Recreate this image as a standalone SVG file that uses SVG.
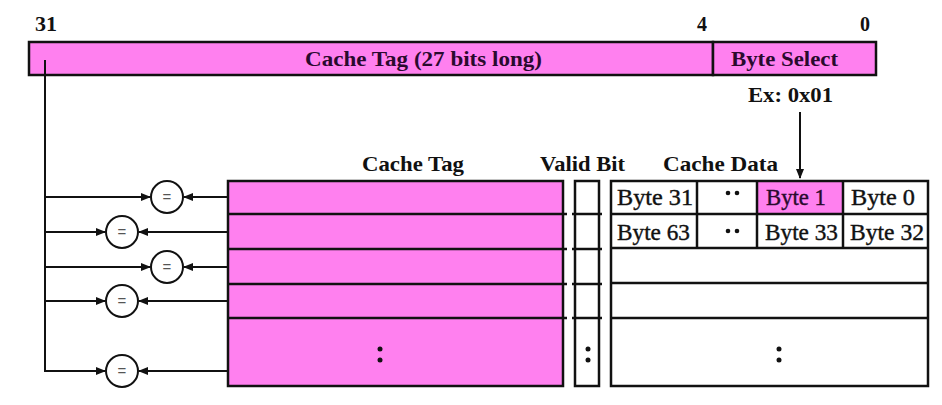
<svg xmlns="http://www.w3.org/2000/svg" width="942" height="405" viewBox="0 0 942 405">
<style>
text{font-family:"Liberation Serif","DejaVu Serif","Times New Roman",serif;font-weight:bold;fill:#111}
.lbl{font-size:21px}
.bar{font-size:21px;fill:#2a0a2e}
.cell{font-size:23px;font-weight:normal;fill:#111;stroke:#111;stroke-width:0.4}
.box{stroke:#111;stroke-width:2.5}
.pink{fill:#ff80ef}
.ln{stroke:#111;stroke-width:2.5;fill:none}
.conn{stroke:#111;stroke-width:2;fill:none}
.cmp{fill:#fff;stroke:#111;stroke-width:2}
.eq{font-family:"Liberation Sans",Arial,sans-serif;font-size:15px;font-weight:normal;fill:#555}
</style>
<defs>
<marker id="ah" viewBox="0 0 10 10" refX="9" refY="5" markerWidth="10" markerHeight="10" markerUnits="userSpaceOnUse" orient="auto">
<path d="M0,1 L10,5 L0,9 z" fill="#111"/>
</marker>
</defs>
<rect width="942" height="405" fill="#fff"/>

<g id="address">
<text class="lbl" x="35" y="31" textLength="22" lengthAdjust="spacingAndGlyphs">31</text>
<text class="lbl" x="697" y="31" textLength="10" lengthAdjust="spacingAndGlyphs">4</text>
<text class="lbl" x="860" y="31" textLength="10" lengthAdjust="spacingAndGlyphs">0</text>
<rect class="box pink" x="29" y="42" width="684" height="33"/>
<rect class="box pink" x="713" y="42" width="163" height="33"/>
<text class="bar" x="305" y="66" textLength="237" lengthAdjust="spacingAndGlyphs">Cache Tag (27 bits long)</text>
<text class="bar" x="731" y="66" textLength="107" lengthAdjust="spacingAndGlyphs">Byte Select</text>
<text class="lbl" x="748" y="102" textLength="85" lengthAdjust="spacingAndGlyphs">Ex: 0x01</text>
</g>

<g id="headers">
<text class="lbl" x="362" y="171" textLength="102" lengthAdjust="spacingAndGlyphs">Cache Tag</text>
<text class="lbl" x="540" y="171" textLength="85" lengthAdjust="spacingAndGlyphs">Valid Bit</text>
<text class="lbl" x="663" y="171" textLength="115" lengthAdjust="spacingAndGlyphs">Cache Data</text>
</g>

<g id="tag-array">
<rect class="box pink" x="228" y="181" width="335" height="205"/>
<line class="ln" x1="228" y1="214" x2="567" y2="214"/>
<line class="ln" x1="228" y1="249" x2="567" y2="249"/>
<line class="ln" x1="228" y1="284" x2="567" y2="284"/>
<line class="ln" x1="228" y1="318" x2="567" y2="318"/>
<circle cx="380" cy="349" r="2.5" fill="#111"/>
<circle cx="380" cy="360" r="2.5" fill="#111"/>
</g>

<g id="valid-bits">
<rect class="box" x="575" y="181" width="24" height="205" fill="#fff"/>
<line class="ln" x1="572" y1="214" x2="602" y2="214"/>
<line class="ln" x1="572" y1="249" x2="602" y2="249"/>
<line class="ln" x1="572" y1="284" x2="602" y2="284"/>
<line class="ln" x1="572" y1="318" x2="602" y2="318"/>
<circle cx="588" cy="349" r="2.5" fill="#111"/>
<circle cx="588" cy="360" r="2.5" fill="#111"/>
</g>

<g id="data-array">
<rect x="757" y="181" width="86" height="33" class="pink"/>
<rect class="box" x="611" y="181" width="317" height="205" fill="none"/>
<line class="ln" x1="611" y1="214" x2="928" y2="214"/>
<line class="ln" x1="611" y1="248" x2="928" y2="248"/>
<line class="ln" x1="611" y1="283" x2="928" y2="283"/>
<line class="ln" x1="611" y1="318" x2="928" y2="318"/>
<line class="ln" x1="697" y1="181" x2="697" y2="248"/>
<line class="ln" x1="757" y1="181" x2="757" y2="248"/>
<line class="ln" x1="843" y1="181" x2="843" y2="248"/>
<text class="cell" x="617" y="205" textLength="76" lengthAdjust="spacingAndGlyphs">Byte 31</text>
<circle cx="728" cy="193" r="2.3" fill="#111"/>
<circle cx="737" cy="193" r="2.3" fill="#111"/>
<text class="cell" x="766" y="205" textLength="60" lengthAdjust="spacingAndGlyphs" style="fill:#2a0a2e;stroke:#2a0a2e">Byte 1</text>
<text class="cell" x="851" y="205" textLength="64" lengthAdjust="spacingAndGlyphs">Byte 0</text>
<text class="cell" x="617" y="240" textLength="73" lengthAdjust="spacingAndGlyphs">Byte 63</text>
<circle cx="728" cy="231" r="2.3" fill="#111"/>
<circle cx="737" cy="231" r="2.3" fill="#111"/>
<text class="cell" x="765" y="240" textLength="73" lengthAdjust="spacingAndGlyphs">Byte 33</text>
<text class="cell" x="850" y="240" textLength="74" lengthAdjust="spacingAndGlyphs">Byte 32</text>
<circle cx="779" cy="349" r="2.5" fill="#111"/>
<circle cx="779" cy="360" r="2.5" fill="#111"/>
</g>

<g id="comparators">
<g id="cmp1"><circle class="cmp" cx="167" cy="197" r="16"/><text class="eq" x="167" y="202" text-anchor="middle">=</text></g>
<g id="cmp2"><circle class="cmp" cx="122" cy="232" r="16"/><text class="eq" x="122" y="237" text-anchor="middle">=</text></g>
<g id="cmp3"><circle class="cmp" cx="167" cy="267" r="16"/><text class="eq" x="167" y="272" text-anchor="middle">=</text></g>
<g id="cmp4"><circle class="cmp" cx="122" cy="301" r="16"/><text class="eq" x="122" y="306" text-anchor="middle">=</text></g>
<g id="cmp5"><circle class="cmp" cx="122" cy="371" r="16"/><text class="eq" x="122" y="376" text-anchor="middle">=</text></g>
</g>

<g id="connectors">
<polyline class="conn" points="45,60 45,371 47,371"/>
<line class="conn" x1="45" y1="197" x2="150" y2="197" marker-end="url(#ah)"/>
<line class="conn" x1="45" y1="232" x2="105" y2="232" marker-end="url(#ah)"/>
<line class="conn" x1="45" y1="267" x2="150" y2="267" marker-end="url(#ah)"/>
<line class="conn" x1="45" y1="301" x2="105" y2="301" marker-end="url(#ah)"/>
<line class="conn" x1="45" y1="371" x2="105" y2="371" marker-end="url(#ah)"/>
<line class="conn" x1="228" y1="197" x2="184" y2="197" marker-end="url(#ah)"/>
<line class="conn" x1="228" y1="232" x2="139" y2="232" marker-end="url(#ah)"/>
<line class="conn" x1="228" y1="267" x2="184" y2="267" marker-end="url(#ah)"/>
<line class="conn" x1="228" y1="301" x2="139" y2="301" marker-end="url(#ah)"/>
<line class="conn" x1="228" y1="371" x2="139" y2="371" marker-end="url(#ah)"/>
<line class="conn" x1="800" y1="112" x2="800" y2="178" marker-end="url(#ah)"/>
</g>
</svg>
